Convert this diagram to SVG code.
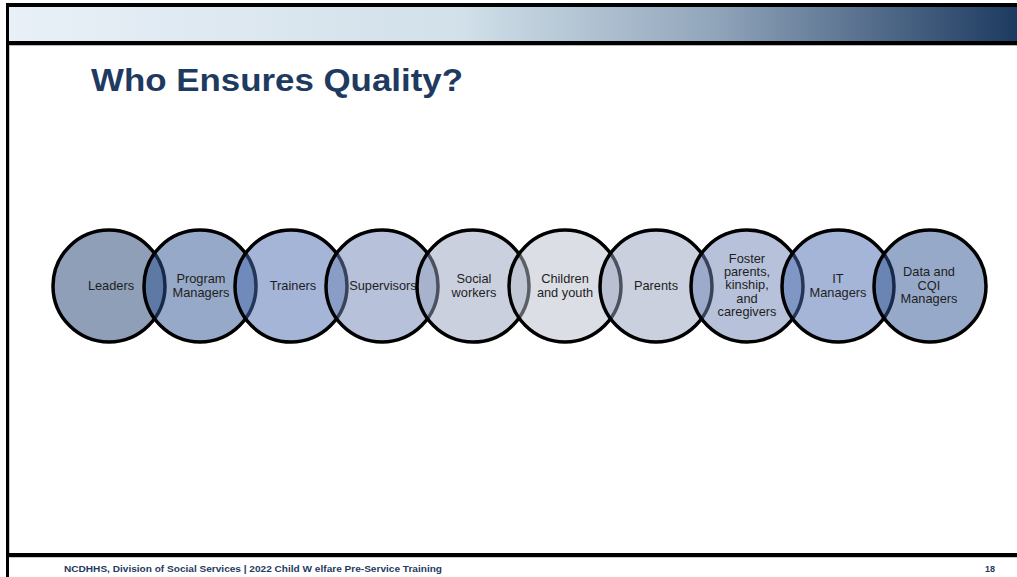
<svg xmlns="http://www.w3.org/2000/svg" width="1017" height="577" viewBox="0 0 1017 577">
<defs>
<linearGradient id="band" x1="0" y1="0" x2="1" y2="0">
<stop offset="0" stop-color="#e9f0f7"/>
<stop offset="0.45" stop-color="#d1e0e9"/>
<stop offset="0.7" stop-color="#91a5bb"/>
<stop offset="1" stop-color="#1d3a60"/>
</linearGradient>
<style>
.c{stroke:#000;stroke-width:3.5;fill-opacity:0.5}
.t{font-family:"Liberation Sans",Arial,sans-serif;font-size:12.8px;fill:#1e1e1e;text-anchor:middle}
.f{font-family:"Liberation Sans",Arial,sans-serif;font-weight:bold;fill:#1f3a60}
</style>
</defs>
<rect width="1017" height="577" fill="#fff"/>
<g id="frame">
<rect x="9" y="7" width="1008" height="34" fill="url(#band)"/>
<rect x="6" y="3" width="1011" height="4" fill="#000"/>
<rect x="6" y="41" width="1011" height="4" fill="#000"/>
<rect x="6" y="45" width="1011" height="1" fill="#b8b8b8"/>
<rect x="6" y="553" width="1011" height="4" fill="#000"/>
<rect x="6" y="557" width="1011" height="1" fill="#c8c8c8"/>
<rect x="6" y="3" width="3" height="574" fill="#000"/>
<rect x="9" y="46" width="1" height="507" fill="#c8c8c8"/>
</g>
<text x="91" y="91" class="f" font-size="32" textLength="372" lengthAdjust="spacingAndGlyphs">Who Ensures Quality?</text>
<g id="n1"><circle class="c" cx="109" cy="286" r="56" fill="#1f3f71"/><text class="t" x="111" y="290">Leaders</text></g>
<g id="n2"><circle class="c" cx="200" cy="286" r="56" fill="#2f5391"/><text class="t" x="201" y="283">Program</text><text class="t" x="201" y="297">Managers</text></g>
<g id="n3"><circle class="c" cx="291" cy="286" r="56" fill="#4a6cb0"/><text class="t" x="293" y="290">Trainers</text></g>
<g id="n4"><circle class="c" cx="382" cy="286" r="56" fill="#6f85b5"/><text class="t" x="383" y="290">Supervisors</text></g>
<g id="n5"><circle class="c" cx="473" cy="286" r="56" fill="#97a1bd"/><text class="t" x="474" y="283">Social</text><text class="t" x="474" y="297">workers</text></g>
<g id="n6"><circle class="c" cx="565" cy="286" r="56" fill="#b9bdcb"/><text class="t" x="565" y="283">Children</text><text class="t" x="565" y="297">and youth</text></g>
<g id="n7"><circle class="c" cx="656" cy="286" r="56" fill="#97a1bd"/><text class="t" x="656" y="290">Parents</text></g>
<g id="n8"><circle class="c" cx="747" cy="286" r="56" fill="#6f85b5"/><text class="t" x="747" y="263">Foster</text><text class="t" x="747" y="276">parents,</text><text class="t" x="747" y="289">kinship,</text><text class="t" x="747" y="303">and</text><text class="t" x="747" y="316">caregivers</text></g>
<g id="n9"><circle class="c" cx="838" cy="286" r="56" fill="#4a6cb0"/><text class="t" x="838" y="283">IT</text><text class="t" x="838" y="297">Managers</text></g>
<g id="n10"><circle class="c" cx="930" cy="286" r="56" fill="#2f5391"/><text class="t" x="929" y="276">Data and</text><text class="t" x="929" y="290">CQI</text><text class="t" x="929" y="303">Managers</text></g>
<g id="connectors"></g>
<text x="64" y="572" class="f" font-size="9" textLength="378" lengthAdjust="spacingAndGlyphs">NCDHHS, Division of Social Services | 2022 Child W elfare Pre-Service Training</text>
<text x="985" y="572" class="f" font-size="9">18</text>
</svg>
